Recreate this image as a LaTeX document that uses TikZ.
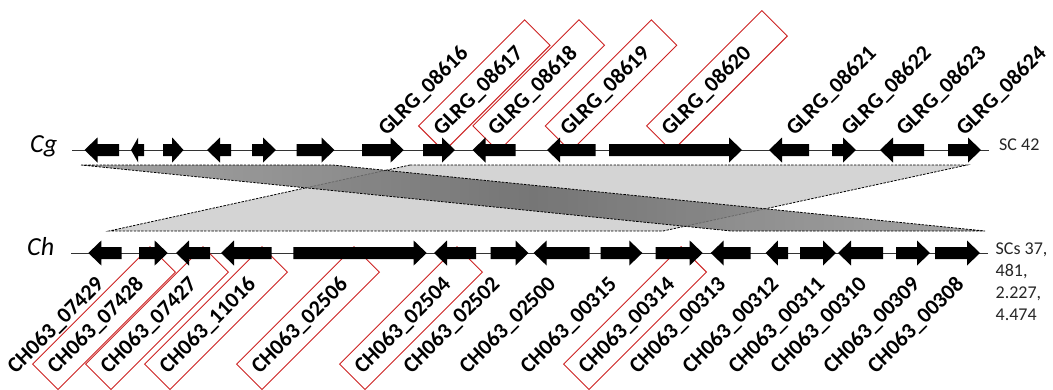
\documentclass[tikz,border=0pt]{standalone}
\usepackage{fontspec}
\setmainfont{Carlito}
\definecolor{boxred}{RGB}{204,34,34}
\newcommand\tagfont{\bfseries\fontsize{22}{22}\selectfont}
\newcommand\sidefont{\fontsize{18}{22}\selectfont}
\newcommand\orgfont{\itshape\fontsize{26}{26}\selectfont}
% forward / reverse gene arrows: {x start}{x end}{y of the contig line}
\newcommand\fwdgene[3]{%
  \pgfmathsetmacro\hl{min(13,0.55*(#2-#1))}%
  \fill[genefill] (#1,#3-6) -- (#2-\hl,#3-6) -- (#2-\hl,#3-12.5) -- (#2,#3)
    -- (#2-\hl,#3+12.5) -- (#2-\hl,#3+6) -- (#1,#3+6) -- cycle;}
\newcommand\revgene[3]{%
  \pgfmathsetmacro\hl{min(13,0.55*(#2-#1))}%
  \fill[genefill] (#2,#3-6) -- (#1+\hl,#3-6) -- (#1+\hl,#3-12.5) -- (#1,#3)
    -- (#1+\hl,#3+12.5) -- (#1+\hl,#3+6) -- (#2,#3+6) -- cycle;}
\begin{document}
\begin{tikzpicture}[x=1pt,y=-1pt,
  genefill/.style={fill=black},
  contig/.style={draw=black!80, line width=0.9pt},
  bandedge/.style={draw=black, line width=0.8pt, dash pattern=on 2.4pt off 1.3pt},
  cgtag/.style={rotate=45, anchor=south west, inner xsep=9pt, inner ysep=0pt,
    minimum height=36pt, text width=#1, align=left, font=\tagfont},
  cgtag/.default=132pt,
  chtag/.style={rotate=45, anchor=north east, inner xsep=9pt, inner ysep=0pt,
    minimum height=36pt, text width=148pt, align=left, font=\tagfont},
  boxed/.style={draw=boxred, line width=0.9pt},
  side/.style={anchor=base west, inner sep=0pt, font=\sidefont, text=black!85},
]
\useasboundingbox (0,0) rectangle (1053,389);

% synteny blocks between the two contigs
\fill[black!17] (410,165) -- (967,165) -- (663,231) -- (109,231) -- cycle;
\draw[bandedge] (410,165) -- (967,165) -- (663,231) -- (109,231) -- cycle;
\shade[left color=black!42, right color=black!42, middle color=black!60, fill opacity=0.85]
  (81,165) -- (333,165) -- (985,231) -- (731,231) -- cycle;
\draw[bandedge] (81,165) -- (333,165) -- (985,231) -- (731,231) -- cycle;

% contig lines
\draw[contig] (72,150) -- (989,150);
\draw[contig] (71,253) -- (988,253);

% organism and scaffold labels
\node[anchor=base west, inner sep=0pt, font=\orgfont] (cg) at (30,152) {Cg};
\node[anchor=base west, inner sep=0pt, font=\orgfont] (ch) at (27,255) {Ch};
\node[side] (sc42) at (999,150) {SC 42};
\node[side] (sca) at (995.5,254) {SCs 37,};
\node[side] (scb) at (995.5,276) {481,};
\node[side] (scc) at (995.5,298) {2.227,};
\node[side] (scd) at (995.5,320) {4.474};

% Cg gene tags
\node[cgtag] (g16) at (389,152) {GLRG\_08616};
\node[cgtag, boxed] (g17) at (444,152) {GLRG\_08617};
\node[cgtag, boxed] (g18) at (498.4,152) {GLRG\_08618};
\node[cgtag, boxed] (g19) at (570.7,152) {GLRG\_08619};
\node[cgtag=145pt, boxed] (g20) at (672,152) {GLRG\_08620};
\node[cgtag] (g21) at (797,152) {GLRG\_08621};
\node[cgtag] (g22) at (852,152) {GLRG\_08622};
\node[cgtag] (g23) at (907,152) {GLRG\_08623};
\node[cgtag] (g24) at (967,152) {GLRG\_08624};

% Ch gene tags
\node[chtag] (h07429) at (110,246) {CH063\_07429};
\node[chtag, boxed] (h07428) at (150,246) {CH063\_07428};
\node[chtag, boxed] (h07427) at (203,246) {CH063\_07427};
\node[chtag, boxed] (h11016) at (262,246) {CH063\_11016};
\node[chtag, boxed] (h02506) at (354,246) {CH063\_02506};
\node[chtag, boxed] (h02504) at (457,246) {CH063\_02504};
\node[chtag] (h02502) at (506,246) {CH063\_02502};
\node[chtag] (h02500) at (562,246) {CH063\_02500};
\node[chtag] (h00315) at (623,246) {CH063\_00315};
\node[chtag, boxed] (h00314) at (681,246) {CH063\_00314};
\node[chtag] (h00313) at (732,246) {CH063\_00313};
\node[chtag] (h00312) at (785,246) {CH063\_00312};
\node[chtag] (h00311) at (831,246) {CH063\_00311};
\node[chtag] (h00310) at (873,246) {CH063\_00310};
\node[chtag] (h00309) at (926,246) {CH063\_00309};
\node[chtag] (h00308) at (970,246) {CH063\_00308};

% Cg genes
\revgene{84.5}{119}{150}
\revgene{131}{144}{150}
\fwdgene{163}{183.5}{150}
\revgene{207}{231}{150}
\fwdgene{252}{276}{150}
\fwdgene{296.6}{334.5}{150}
\fwdgene{362}{403.7}{150}
\fwdgene{423}{455}{150}
\revgene{472.5}{515.5}{150}
\revgene{547}{595.5}{150}
\fwdgene{609}{742}{150}
\revgene{769}{809}{150}
\fwdgene{832}{856}{150}
\revgene{880}{924}{150}
\fwdgene{948}{981}{150}

% Ch genes
\revgene{88.3}{121.7}{253}
\fwdgene{139}{167.7}{253}
\revgene{176}{210}{253}
\revgene{221}{271.7}{253}
\fwdgene{293.3}{426.7}{253}
\revgene{434}{476}{253}
\fwdgene{490.7}{528.5}{253}
\revgene{533.6}{589.5}{253}
\fwdgene{600.7}{642.3}{253}
\fwdgene{655.7}{702.7}{253}
\revgene{710.7}{750.7}{253}
\revgene{765.6}{788}{253}
\fwdgene{800}{836}{253}
\revgene{838}{883}{253}
\fwdgene{896}{930}{253}
\fwdgene{935}{980}{253}
\end{tikzpicture}
\end{document}
